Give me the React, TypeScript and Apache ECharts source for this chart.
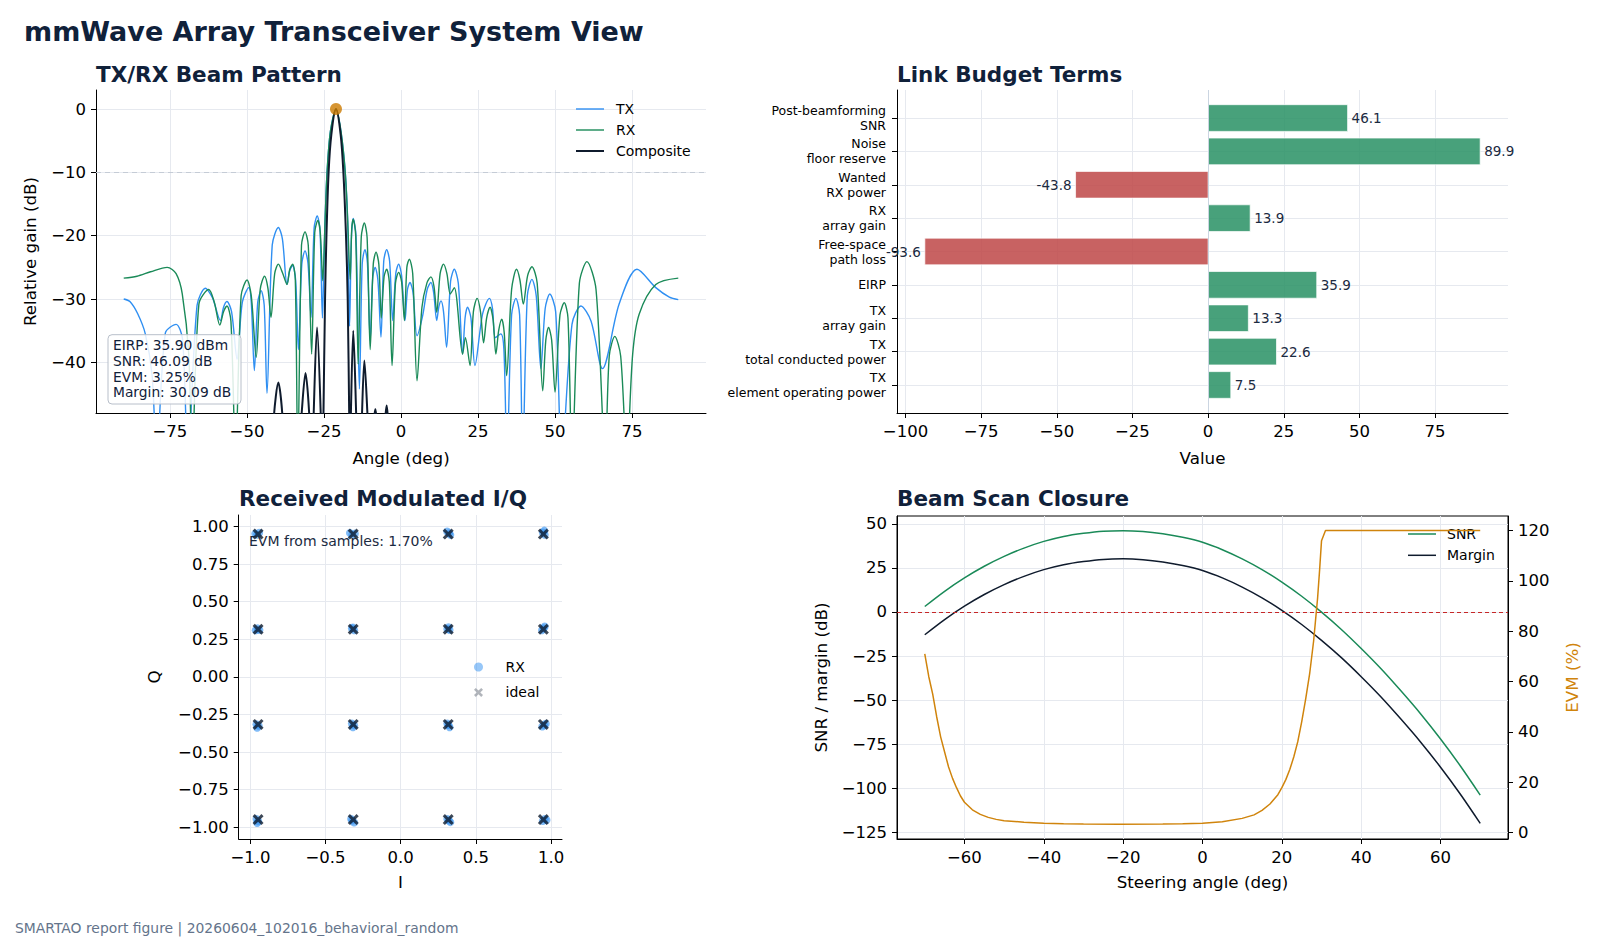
import React, { useEffect, useRef } from 'react';
import * as echarts from 'echarts';

const FONT = '"DejaVu Sans", "Liberation Sans", Arial, sans-serif';
const NAVY = '#10213a';
const TX_BLUE = '#2f8ff2';
const RX_GREEN = '#1a8a58';
const COMP = '#0f1b2d';
const ORANGE = '#d0840c';
const GRID = '#e6e9ef';

// ---------- Panel 1: beam pattern (angle deg, relative gain dB) ----------
const TX_PATTERN = [
  [-90, -30.0], [-88, -30.4], [-85.5, -32.3], [-83, -35.5], [-80.8, -42], [-79.3, -55],
  [-76.5, -35.4], [-73.0, -34.0], [-70.9, -36.4], [-69.2, -55],
  [-66.2, -31.0], [-63.5, -28.3], [-61.2, -29.8], [-58.6, -33.4], [-57.6, -31.3], [-56.5, -30.4], [-55.0, -32.0], [-53.2, -39.5],
  [-51.5, -30.5], [-49.4, -28.2], [-48.6, -30.5], [-47.6, -41.3], [-46.5, -30.5], [-45.4, -28.7], [-44.4, -31], [-43.5, -44.9],
  [-41.8, -21.5], [-39.8, -18.7], [-38.5, -20.5], [-37.0, -27.7], [-36.1, -25.5], [-35.2, -24.7], [-34.2, -27], [-33.3, -38.0],
  [-32.2, -24.5], [-31.15, -22.4], [-30.2, -24.3], [-29.2, -32.9], [-28.2, -18.8], [-27.2, -16.9], [-26.3, -19.0], [-25.5, -33.0],
  [-25.0, -24], [-24.65, -17.7], [-24.0, -10], [-22.9, -3.5], [-21.1, 0], [-19.5, -3.5], [-18.1, -10], [-17.3, -17.7], [-17.0, -27],
  [-16.7, -34.3], [-16.1, -20.5], [-15.5, -17.3], [-14.6, -20], [-13.5, -44.2], [-12.6, -24.5], [-11.7, -22.2], [-10.9, -24.3],
  [-10.0, -36.6], [-9.2, -26.8], [-8.4, -25.0], [-7.5, -27], [-6.5, -36.0], [-5.6, -24], [-4.65, -22.2], [-3.7, -24],
  [-2.7, -33.4], [-1.7, -26], [-0.76, -24.5], [0.2, -26.3], [1.3, -33.4], [2.1, -28.5], [2.9, -27.4], [3.9, -29],
  [5.2, -35.8], [7.0, -32.7], [8.5, -28.5], [9.7, -27.4], [10.6, -29], [11.6, -33.4], [12.3, -31.2], [13.0, -30.3], [13.8, -32],
  [14.8, -37.6], [16.1, -27.2], [17.3, -25.3], [18.6, -27.5], [20.0, -38.7], [20.8, -33], [21.6, -31.3], [22.7, -33],
  [24.0, -40.5], [26.5, -32.3], [28.7, -29.9], [29.7, -31.5], [30.6, -36.1], [32.4, -35.5], [33.4, -38], [34.4, -55],
  [35.9, -32.5], [37.3, -29.9], [38.5, -32.5], [39.5, -55], [41.0, -29.5], [42.5, -26.9], [43.9, -29.5], [45.4, -41.0],
  [46.8, -31.5], [48.3, -29.2], [50.2, -32], [52.2, -55], [55.5, -34], [58.4, -31.1], [61.7, -33.5], [65.4, -41.0],
  [70.8, -30.8], [76.6, -25.3], [82.7, -28.2], [87.1, -29.7], [90, -30.1],
];

const RX_PATTERN = [
  [-90, -26.7], [-85.7, -26.4], [-81.3, -25.7], [-75.9, -25.0], [-73, -26.0], [-71.0, -29.2], [-68.9, -38.7], [-67.8, -55],
  [-65.6, -30.8], [-62.4, -28.5], [-60.6, -30.5], [-58.8, -34.1], [-57.6, -32], [-56.5, -31.1], [-55.2, -33.5], [-53.7, -55],
  [-51.9, -29.5], [-49.97, -27.0], [-48.6, -29.5], [-47.0, -39.2], [-45.7, -28.5], [-44.3, -26.4], [-43.2, -28.3], [-42.2, -32.9],
  [-41.0, -26], [-39.8, -24.5], [-38.5, -25.8], [-37.0, -27.7], [-36.1, -25.3], [-35.15, -24.5], [-34.3, -27], [-33.5, -55],
  [-32.3, -21.5], [-31.15, -19.4], [-30.1, -21.5], [-29.0, -38.7], [-28.0, -19.5], [-27.0, -17.6], [-26.2, -19.5], [-25.4, -27.1],
  [-24.65, -17.7], [-24.0, -10], [-22.9, -3.5], [-21.1, 0], [-19.5, -3.5], [-18.1, -10], [-17.3, -17.7],
  [-16.5, -26.9], [-16.0, -19], [-15.5, -17.4], [-14.7, -20], [-13.9, -40.3], [-12.9, -20.2], [-11.9, -18.0], [-11.0, -20.3],
  [-10.0, -38], [-9.0, -24.5], [-8.1, -22.6], [-7.2, -24.5], [-6.4, -33], [-5.5, -26.5], [-4.65, -25.3], [-3.8, -27.3],
  [-2.9, -40.5], [-1.8, -27.5], [-0.76, -25.8], [0.2, -27.3], [1.1, -33.4], [1.9, -25], [2.7, -23.7], [3.8, -26],
  [5.2, -42.9], [6.8, -31.3], [8.4, -27.5], [9.7, -26.5], [10.7, -28], [11.6, -32.1], [12.7, -26], [13.8, -24.5], [14.9, -26],
  [16.0, -29.2], [17.3, -28.2], [20.0, -38.7], [20.9, -36.1], [22.4, -40.5], [23.5, -32], [24.7, -29.9], [25.8, -32],
  [26.8, -36.9], [27.8, -33], [28.9, -31.3], [29.9, -33.3], [30.8, -38.7], [31.7, -35], [32.7, -33.2], [33.5, -35.3],
  [34.3, -42.1], [35.9, -28.5], [37.5, -25.3], [38.6, -27], [39.7, -30.8], [41.1, -26.3], [42.5, -24.9], [44.2, -27.5],
  [46.0, -44.5], [47.0, -36.5], [47.9, -34.5], [48.9, -36.5], [50.0, -44.7], [51.6, -32.5], [53.0, -30.6], [54.2, -33],
  [55.5, -55], [57.9, -27.5], [60.35, -24.1], [63.3, -28.5], [66.3, -55], [67.6, -39], [69.4, -35.9], [71.3, -39],
  [73.3, -55], [75.2, -38.7], [77.3, -32.4], [82.7, -27.7], [90, -26.7],
];

const COMPOSITE_PATTERN = [
  [-90, -70], [-42.5, -70], [-41.3, -49], [-39.8, -43.2], [-38.4, -49], [-36, -70],
  [-32.4, -49], [-31.0, -41.7], [-29.7, -49], [-29.0, -60], [-28.4, -49], [-27.25, -34.5],
  [-26.0, -49], [-25.6, -60], [-25.2, -49], [-24.65, -30], [-24.2, -20], [-23.5, -10], [-22.6, -4],
  [-21.1, 0], [-19.6, -4], [-18.7, -10], [-17.85, -20], [-17.3, -30], [-16.8, -49], [-16.6, -60],
  [-16.3, -49], [-15.5, -35.0], [-14.5, -49], [-13.5, -65], [-12.7, -49], [-11.9, -39.7],
  [-10.8, -49], [-9.5, -60], [-8.7, -49], [-8.3, -47.4], [-7.9, -49], [-6, -60], [-5.1, -49],
  [-4.65, -46.8], [-4.2, -49], [0, -70], [90, -70],
];

const BEAM_PEAK = [[-21.1, 0]];
const REF_LEVEL_DB = -10;
const BEAM_X_TICKS = [-75, -50, -25, 0, 25, 50, 75];
const BEAM_Y_TICKS = [-40, -30, -20, -10, 0];
const BEAM_BOX = ['EIRP: 35.90 dBm', 'SNR: 46.09 dB', 'EVM: 3.25%', 'Margin: 30.09 dB'];

// ---------- Panel 2: link budget ----------
const LINK_TERMS = [
  'TX\nelement operating power',
  'TX\ntotal conducted power',
  'TX\narray gain',
  'EIRP',
  'Free-space\npath loss',
  'RX\narray gain',
  'Wanted\nRX power',
  'Noise\nfloor reserve',
  'Post-beamforming\nSNR',
];
const LINK_VALUES = [7.5, 22.6, 13.3, 35.9, -93.6, 13.9, -43.8, 89.9, 46.1];
const LINK_X_TICKS = [-100, -75, -50, -25, 0, 25, 50, 75];

// ---------- Panel 3: constellation ----------
const IQ_IDEAL = [
  [-0.949, 0.949], [-0.316, 0.949], [0.316, 0.949], [0.949, 0.949],
  [-0.949, 0.316], [-0.316, 0.316], [0.316, 0.316], [0.949, 0.316],
  [-0.949, -0.316], [-0.316, -0.316], [0.316, -0.316], [0.949, -0.316],
  [-0.949, -0.949], [-0.316, -0.949], [0.316, -0.949], [0.949, -0.949],
];
const IQ_RX = [
  [-0.968, 0.952], [-0.955, 0.945], [-0.942, 0.958],
  [-0.338, 0.956], [-0.322, 0.944], [-0.305, 0.952],
  [0.309, 0.966], [0.322, 0.955], [0.33, 0.944],
  [0.955, 0.972], [0.945, 0.96], [0.958, 0.945],
  [-0.965, 0.31], [-0.952, 0.322], [-0.94, 0.312],
  [-0.325, 0.322], [-0.31, 0.31], [-0.318, 0.328],
  [0.318, 0.33], [0.325, 0.312], [0.31, 0.318],
  [0.958, 0.335], [0.95, 0.322], [0.94, 0.31],
  [-0.955, -0.338], [-0.945, -0.325], [-0.96, -0.315],
  [-0.318, -0.335], [-0.31, -0.322], [-0.325, -0.31],
  [0.325, -0.335], [0.318, -0.32], [0.31, -0.31],
  [0.965, -0.312], [0.955, -0.322], [0.942, -0.33],
  [-0.955, -0.972], [-0.948, -0.96], [-0.96, -0.945],
  [-0.31, -0.968], [-0.322, -0.955], [-0.33, -0.945],
  [0.33, -0.966], [0.32, -0.955], [0.31, -0.945],
  [0.97, -0.952], [0.958, -0.945], [0.945, -0.958],
];
const IQ_X_TICKS = [-1, -0.5, 0, 0.5, 1];
const IQ_Y_TICKS = [-1, -0.75, -0.5, -0.25, 0, 0.25, 0.5, 0.75, 1];
const IQ_NOTE = 'EVM from samples: 1.70%';

// ---------- Panel 4: beam scan ----------
const SCAN_ANGLE = [-70, -65, -60, -55, -50, -45, -40, -35, -30, -25, -20, -15, -10, -5, 0, 5, 10, 15, 20, 25, 30, 35, 40, 45, 50, 55, 60, 65, 70];
const SCAN_SNR = [3.1, 11.7, 19.3, 25.9, 31.5, 36.2, 40.0, 42.8, 44.6, 45.8, 46.1, 45.6, 44.3, 42.3, 39.5, 35.3, 30.1, 24.0, 16.9, 8.9, -0.1, -9.9, -20.7, -32.2, -44.7, -57.8, -72.0, -87.3, -103.8];
const SCAN_MARGIN = [-12.9, -4.3, 3.3, 9.9, 15.5, 20.2, 24.0, 26.8, 28.6, 29.8, 30.1, 29.6, 28.3, 26.3, 23.5, 19.3, 14.1, 8.0, 0.9, -7.1, -16.1, -25.9, -36.7, -48.2, -60.7, -73.8, -88.0, -103.3, -119.8];
const EVM_ANGLE = [-70, -69, -68, -67, -66, -65, -64, -63, -62, -61, -60, -58, -56, -54, -52, -50, -45, -40, -35, -30, -21, -10, -5, 0, 5, 10, 13, 15, 17, 19, 20, 21, 22, 23, 24, 25, 26, 27, 28, 29, 29.5, 30, 31, 40, 50, 60, 70];
const EVM_PCT = [71, 62, 55, 46, 38, 32, 26, 21.5, 17.8, 14.5, 12, 9, 7.2, 6, 5.2, 4.7, 4.1, 3.7, 3.5, 3.35, 3.25, 3.35, 3.5, 3.7, 4.3, 5.6, 7, 8.8, 11.3, 15, 17.8, 21, 25, 30, 36, 44, 53, 63, 76, 93, 104, 116, 120, 120, 120, 120, 120];
const SCAN_X_TICKS = [-60, -40, -20, 0, 20, 40, 60];
const SCAN_Y_TICKS = [-125, -100, -75, -50, -25, 0, 25, 50];
const EVM_TICKS = [0, 20, 40, 60, 80, 100, 120];

const XPATH = 'path://M0,2 L2,0 L5,3 L8,0 L10,2 L7,5 L10,8 L8,10 L5,7 L2,10 L0,8 L3,5 Z';
const LINE_ICON_THIN = 'path://M0,0 L40,0 L40,2 L0,2 Z';
const LINE_ICON_MID = 'path://M0,0 L37.3,0 L37.3,2 L0,2 Z';
const LINE_ICON_THICK = 'path://M0,0 L28,0 L28,2 L0,2 Z';

const neg = (s: string) => s.replace('-', '\u2212');
const fmtInt = (v: number) => neg(String(Math.round(v)));
const fmt1 = (v: number) => neg(v.toFixed(1));
const fmt2 = (v: number) => neg(v.toFixed(2));

function axis(gridIndex: number, min: number, max: number, ticks: number[], fmt: (v: number) => string, o: any = {}) {
  return {
    type: 'value',
    gridIndex,
    min,
    max,
    axisLine: { show: true, onZero: false, lineStyle: { color: '#000', width: 1 } },
    axisTick: { show: true, length: 5, customValues: ticks, lineStyle: { color: '#000', width: 1 } },
    axisLabel: { customValues: ticks, formatter: fmt, margin: 10, color: '#000', fontSize: 16.5, fontFamily: FONT, ...(o.label || {}) },
    splitLine: { show: o.split !== false, lineStyle: { color: GRID, width: 1 } },
    name: o.name || '',
    nameLocation: 'middle',
    nameGap: o.nameGap || 30,
    nameTextStyle: { color: o.nameColor || '#000', fontSize: 16.7, fontFamily: FONT },
    position: o.position,
  };
}

function buildOption(): any {
  const lineText = { color: '#000', fontSize: 14, fontFamily: FONT };
  return {
    animation: false,
    backgroundColor: '#ffffff',
    grid: [
      { left: 96, top: 90, width: 610, height: 323 },
      { left: 897, top: 90, width: 611, height: 323 },
      { left: 238.7, top: 515, width: 323.3, height: 324 },
      { left: 897, top: 516, width: 611, height: 323, show: true, borderColor: '#000', borderWidth: 1, backgroundColor: 'transparent' },
    ],
    xAxis: [
      axis(0, -99, 99, BEAM_X_TICKS, fmtInt, { name: 'Angle (deg)', nameGap: 36 }),
      axis(1, -102.8, 99.1, LINK_X_TICKS, fmtInt, { name: 'Value', nameGap: 36 }),
      axis(2, -1.078, 1.073, IQ_X_TICKS, fmt1, { name: 'I', nameGap: 34 }),
      axis(3, -77, 77, SCAN_X_TICKS, fmtInt, { name: 'Steering angle (deg)', nameGap: 34 }),
    ],
    yAxis: [
      axis(0, -48, 3, BEAM_Y_TICKS, fmtInt, { name: 'Relative gain (dB)', nameGap: 58 }),
      axis(1, -0.84, 8.84, LINK_TERMS.map((_, i) => i), (v: number) => LINK_TERMS[Math.round(v)] || '', {
        label: { fontSize: 12.5, lineHeight: 15, align: 'right', margin: 11 },
      }),
      axis(2, -1.078, 1.076, IQ_Y_TICKS, fmt2, { name: 'Q', nameGap: 76 }),
      axis(3, -128.7, 54.4, SCAN_Y_TICKS, fmtInt, { name: 'SNR / margin (dB)', nameGap: 68 }),
      axis(3, -2.6, 125.8, EVM_TICKS, fmtInt, { name: 'EVM (%)', nameGap: 55, nameColor: ORANGE, split: false, position: 'right' }),
    ],
    legend: [
      {
        data: [
          { name: 'TX', icon: LINE_ICON_THIN },
          { name: 'RX', icon: LINE_ICON_THIN },
          { name: 'Composite', icon: LINE_ICON_THICK },
        ],
        orient: 'vertical', left: 576, top: 102, padding: 0,
        itemWidth: 28, itemHeight: 14, itemGap: 7, selectedMode: false,
        textStyle: { ...lineText, padding: [0, 0, 0, 7] },
      },
      {
        data: [
          { name: 'RX_IQ', icon: 'circle', itemStyle: { color: TX_BLUE, opacity: 0.5 } },
          { name: 'ideal', icon: XPATH, itemStyle: { color: '#9ea3aa' } },
        ],
        formatter: (n: string) => (n === 'RX_IQ' ? 'RX' : n),
        orient: 'vertical', left: 474, top: 660, padding: 0, itemWidth: 28, itemHeight: 9, itemGap: 11.4,
        selectedMode: false, textStyle: { ...lineText, padding: [0, 0, 0, 8] },
      },
      {
        data: [
          { name: 'SNR', icon: LINE_ICON_MID },
          { name: 'Margin', icon: LINE_ICON_MID },
        ],
        orient: 'vertical', left: 1408, top: 527, padding: 0, z: 1,
        itemWidth: 28, itemHeight: 14, itemGap: 7.3, selectedMode: false,
        textStyle: { ...lineText, padding: [0, 0, 0, 6] },
      },
    ],
    series: [
      {
        name: 'TX', type: 'line', xAxisIndex: 0, yAxisIndex: 0, data: TX_PATTERN, symbol: 'none', smooth: 0.3,
        lineStyle: { color: TX_BLUE, width: 1.4 }, itemStyle: { color: TX_BLUE }, clip: true, z: 3,
        markLine: {
          silent: true, symbol: 'none', label: { show: false },
          lineStyle: { color: '#c5ccd6', type: [5, 4], width: 1 },
          data: [{ yAxis: REF_LEVEL_DB }],
        },
      },
      {
        name: 'RX', type: 'line', xAxisIndex: 0, yAxisIndex: 0, data: RX_PATTERN, symbol: 'none', smooth: 0.3,
        lineStyle: { color: RX_GREEN, width: 1.4 }, itemStyle: { color: RX_GREEN }, clip: true, z: 4,
      },
      {
        name: 'Composite', type: 'line', xAxisIndex: 0, yAxisIndex: 0, data: COMPOSITE_PATTERN, symbol: 'none', smooth: 0.3,
        lineStyle: { color: COMP, width: 2 }, itemStyle: { color: COMP }, clip: true, z: 5,
      },
      {
        name: 'peak', type: 'scatter', xAxisIndex: 0, yAxisIndex: 0, data: BEAM_PEAK, symbolSize: 12,
        itemStyle: { color: '#cc7a00' }, z: 6,
      },
      {
        name: 'budget', type: 'custom', xAxisIndex: 1, yAxisIndex: 1,
        data: LINK_VALUES.map((v, i) => [v, i]),
        encode: { x: 0, y: 1 },
        renderItem: (_params: any, api: any) => {
          const v = api.value(0);
          const i = api.value(1);
          const a = api.coord([0, i + 0.4]);
          const b = api.coord([v, i - 0.4]);
          const x = Math.min(a[0], b[0]);
          const y = Math.min(a[1], b[1]);
          const w = Math.abs(b[0] - a[0]);
          const h = Math.abs(b[1] - a[1]);
          const pos = v >= 0;
          return {
            type: 'group',
            children: [
              {
                type: 'rect', shape: { x, y, width: w, height: h },
                style: { fill: pos ? 'rgba(40,145,100,0.85)' : 'rgba(190,70,70,0.85)', stroke: 'rgba(255,255,255,0.7)', lineWidth: 1 },
              },
              {
                type: 'text',
                style: {
                  text: v.toFixed(1), x: pos ? b[0] + 4 : b[0] - 4, y: (a[1] + b[1]) / 2,
                  align: pos ? 'left' : 'right', verticalAlign: 'middle', fill: '#1b2a41',
                  font: '13.5px ' + FONT,
                },
                z2: 10,
              },
            ],
          };
        },
        markLine: {
          silent: true, symbol: 'none', label: { show: false },
          lineStyle: { color: '#cbd5e1', type: 'solid', width: 1 },
          data: [{ xAxis: 0 }],
        },
        z: 3,
      },
      {
        name: 'RX_IQ', type: 'scatter', xAxisIndex: 2, yAxisIndex: 2, data: IQ_RX, symbolSize: 8,
        itemStyle: { color: TX_BLUE, opacity: 0.6 }, z: 3,
      },
      {
        name: 'ideal', type: 'scatter', xAxisIndex: 2, yAxisIndex: 2, data: IQ_IDEAL, symbol: XPATH, symbolSize: 11,
        itemStyle: { color: COMP }, z: 4,
      },
      {
        name: 'SNR', type: 'line', xAxisIndex: 3, yAxisIndex: 3, data: SCAN_ANGLE.map((a, i) => [a, SCAN_SNR[i]]),
        symbol: 'none', smooth: 0.3, lineStyle: { color: RX_GREEN, width: 1.5 }, itemStyle: { color: RX_GREEN }, z: 3,
        markLine: {
          silent: true, symbol: 'none', label: { show: false },
          lineStyle: { color: '#c62828', type: [4, 3], width: 1 },
          data: [{ yAxis: 0 }],
        },
      },
      {
        name: 'Margin', type: 'line', xAxisIndex: 3, yAxisIndex: 3, data: SCAN_ANGLE.map((a, i) => [a, SCAN_MARGIN[i]]),
        symbol: 'none', smooth: 0.3, lineStyle: { color: COMP, width: 1.5 }, itemStyle: { color: COMP }, z: 3,
      },
      {
        name: 'EVM', type: 'line', xAxisIndex: 3, yAxisIndex: 4, data: EVM_ANGLE.map((a, i) => [a, EVM_PCT[i]]),
        symbol: 'none', lineStyle: { color: ORANGE, width: 1.5 }, itemStyle: { color: ORANGE }, z: 6,
      },
    ],
    graphic: [
      { type: 'text', x: 24, y: 31, z: 100, style: { text: 'mmWave Array Transceiver System View', font: 'bold 27px ' + FONT, fill: NAVY, verticalAlign: 'middle' } },
      { type: 'text', x: 96, y: 74, z: 100, style: { text: 'TX/RX Beam Pattern', font: 'bold 21.5px ' + FONT, fill: NAVY, verticalAlign: 'middle' } },
      { type: 'text', x: 897, y: 74, z: 100, style: { text: 'Link Budget Terms', font: 'bold 21.5px ' + FONT, fill: NAVY, verticalAlign: 'middle' } },
      { type: 'text', x: 239, y: 498, z: 100, style: { text: 'Received Modulated I/Q', font: 'bold 21.5px ' + FONT, fill: NAVY, verticalAlign: 'middle' } },
      { type: 'text', x: 897, y: 498, z: 100, style: { text: 'Beam Scan Closure', font: 'bold 21.5px ' + FONT, fill: NAVY, verticalAlign: 'middle' } },
      { type: 'text', x: 15, y: 928, z: 100, style: { text: 'SMARTAO report figure | 20260604_102016_behavioral_random', font: '13.9px ' + FONT, fill: '#64748b', verticalAlign: 'middle' } },
      {
        type: 'rect', z: 100, shape: { x: 108, y: 334.7, width: 133, height: 69.3, r: 4 },
        style: { fill: 'rgba(255,255,255,0.85)', stroke: '#b8bfca', lineWidth: 1 },
      },
      {
        type: 'text', x: 113, y: 337.5, z: 101,
        style: { text: BEAM_BOX.join('\n'), font: '13.8px ' + FONT, lineHeight: 15.6, fill: NAVY, verticalAlign: 'top' },
      },
      { type: 'text', x: 249, y: 541, z: 100, style: { text: IQ_NOTE, font: '14px ' + FONT, fill: '#1b2a41', verticalAlign: 'middle' } },
    ],
  };
}

export default function App() {
  const ref = useRef<HTMLDivElement>(null);
  useEffect(() => {
    if (!ref.current) return;
    const chart = echarts.init(ref.current, null, { renderer: 'svg' });
    chart.setOption(buildOption());
    return () => chart.dispose();
  }, []);
  return (
    <div
      ref={ref}
      style={{ position: 'fixed', left: 0, top: 0, width: 1600, height: 942, background: '#ffffff' }}
    />
  );
}
